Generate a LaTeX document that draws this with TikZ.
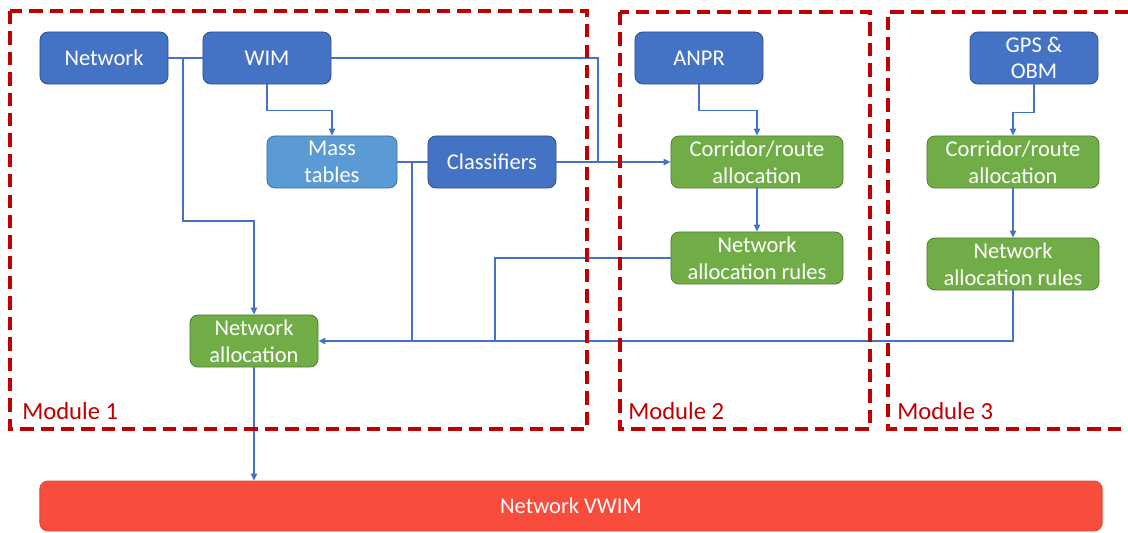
\documentclass[tikz,border=0pt]{standalone}
\usepackage{fontspec}
\setmainfont{Carlito}
\usetikzlibrary{arrows.meta}

\definecolor{inblue}{HTML}{4472C4}
\definecolor{inblueline}{HTML}{2F528F}
\definecolor{lightblue}{HTML}{5B9BD5}
\definecolor{lightblueline}{HTML}{41719C}
\definecolor{allocgreen}{HTML}{70AD47}
\definecolor{allocgreenline}{HTML}{507E32}
\definecolor{vwimred}{HTML}{F84C3D}
\definecolor{modred}{HTML}{C00000}

\begin{document}
\begin{tikzpicture} [
                x=0.025cm,
                y=-0.025cm,
                every node/.style={font=\fontsize{16}{19}\selectfont},
                block/.style={rounded corners=0.2cm, line width=0.6pt, text=white, align=center,
                              minimum width=3.2cm, minimum height=1.3cm, inner sep=1pt},
                input block/.style={block, draw=inblueline, fill=inblue},
                mass block/.style={block, draw=lightblueline, fill=lightblue, minimum width=3.25cm},
                alloc block/.style={block, draw=allocgreenline, fill=allocgreen},
                wide alloc/.style={alloc block, minimum width=4.3cm},
                result block/.style={block, draw=vwimred!90!black, fill=vwimred, minimum width=26.55cm, minimum height=1.25cm},
                link/.style={draw=inblue, line width=0.9pt},
                arrow/.style={link, -{Triangle[length=5pt,width=4.5pt]}},
                module/.style={draw=modred, line width=2.2pt, dash pattern=on 9.5pt off 5pt},
                module label/.style={text=modred, anchor=south west, inner sep=0pt, font=\fontsize{17.5}{20}\selectfont}
            ]
            \useasboundingbox (0,0) rectangle (1128,532);
            % input data
            \foreach \pos/\name/\text in {
                {(104,58)/network/Network}, {(267,58)/wim/WIM}, {(492,162)/classifiers/Classifiers},
                {(699,58)/anpr/ANPR}, {(1034,58)/gps/{GPS \&\\OBM}}}
                \node[input block] (\name) at \pos {\text};
            \node[mass block] (mass) at (332,162) {Mass\\tables};
            % allocation steps
            \node[alloc block] (netalloc) at (254,341) {Network\\allocation};
            \node[wide alloc] (corridor2) at (757,162) {Corridor/route\\allocation};
            \node[wide alloc] (rules2) at (757,258) {Network\\allocation rules};
            \node[wide alloc] (corridor3) at (1013,162) {Corridor/route\\allocation};
            \node[wide alloc] (rules3) at (1013,264) {Network\\allocation rules};
            \node[result block] (vwim) at (571,506) {Network VWIM};
            % junctions on the lines
            \coordinate (njoin) at (183,58);
            \coordinate (mjoin) at (412,162);
            \coordinate (cjoin) at (598,162);
            \coordinate (rjoin) at (495,341);
            % connectors
            \draw[link] (network) -- (wim);
            \draw[arrow] (njoin) -- ++(0,163) -| (netalloc.north);
            \draw[arrow] (wim.south) -- ++(0,26) -| (mass.north);
            \draw[link] (wim.east) -| (cjoin);
            \draw[link] (mass) -- (classifiers);
            \draw[arrow] (classifiers) -- (corridor2);
            \draw[link] (mjoin) -- (mjoin |- netalloc.east);
            \draw[link] (rules2.west) -| (rjoin);
            \draw[arrow] (rules3.south) |- (netalloc.east);
            \draw[arrow] (anpr.south) -- ++(0,26) -| (corridor2.north);
            \draw[arrow] (gps.south) -- ++(0,28) -| (corridor3.north);
            \draw[arrow] (corridor2) -- (rules2);
            \draw[arrow] (corridor3) -- (rules3);
            \draw[arrow] (netalloc.south) -- (netalloc.south |- vwim.north);
            % modules
            \draw[module] (10,11) rectangle (587,429);
            \draw[module] (620,12) rectangle (870,429);
            \draw[module] (1128,12) -- (888,12) -- (888,429) -- (1128,429);
            \node[module label] (mod1) at (22,420) {Module 1};
            \node[module label] (mod2) at (628,420) {Module 2};
            \node[module label] (mod3) at (897,420) {Module 3};
        \end{tikzpicture}
\end{document}
